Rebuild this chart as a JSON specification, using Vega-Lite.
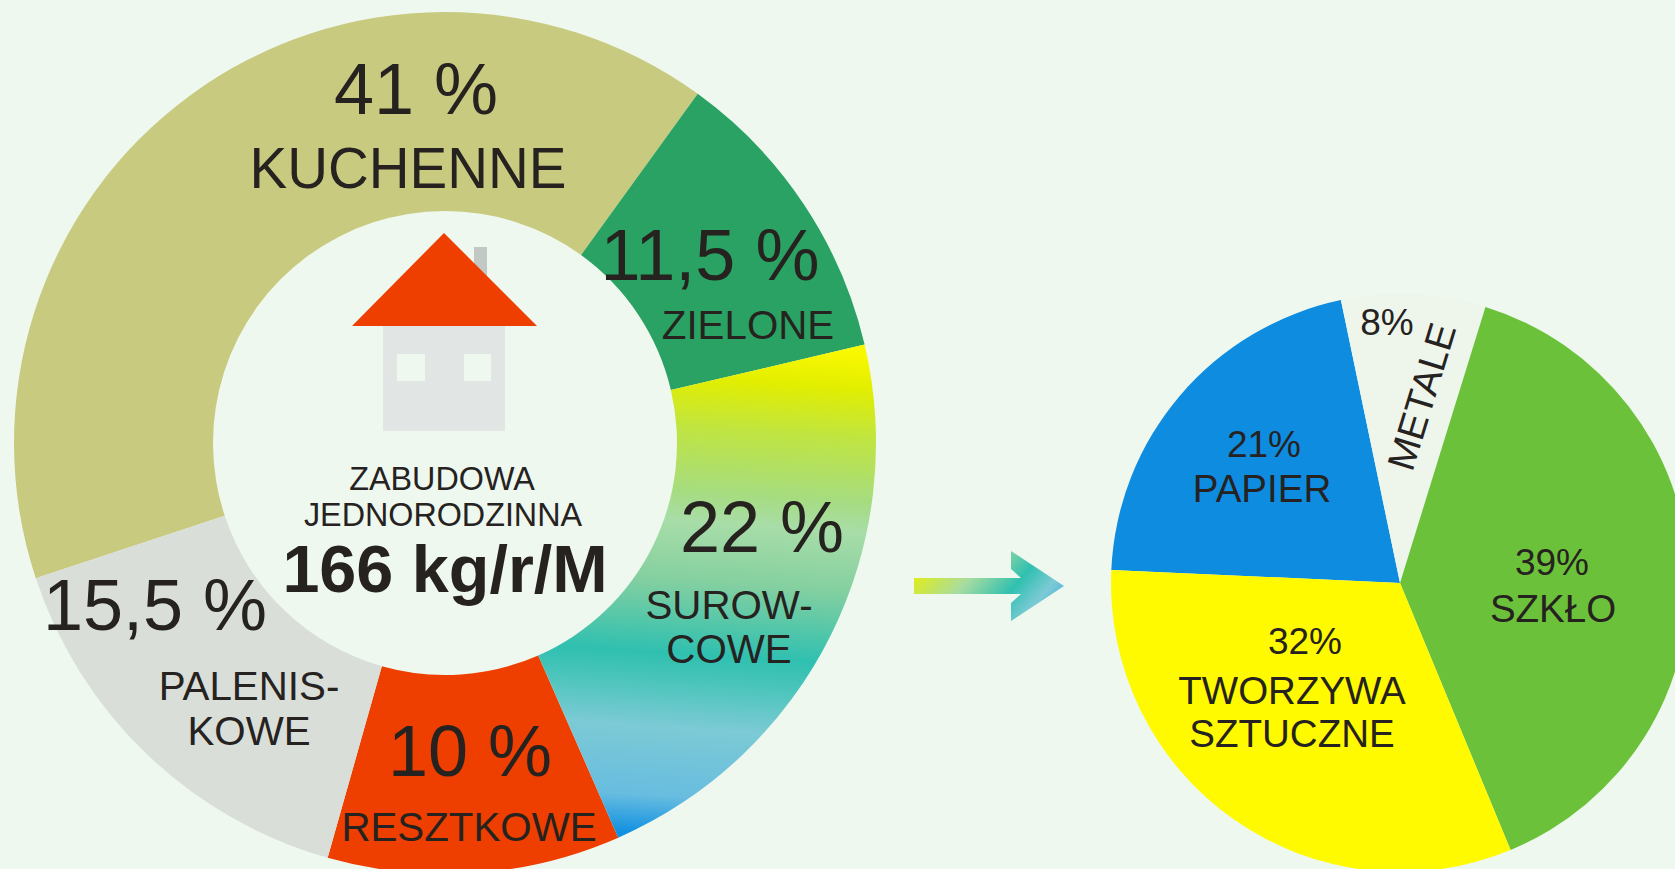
{
"$schema":"https://vega.github.io/schema/vega-lite/v6.json",
"width":1675,"height":869,"padding":0,"autosize":"none",
"background":"#EEF8EE",
"config":{"view":{"stroke":null},"text":{"font":"Liberation Sans","color":"#26221f","baseline":"alphabetic","align":"center"}},
"datasets":{
"donut":[
{"category":"KUCHENNE","share":41,"from":251.7,"to":395.9},
{"category":"ZIELONE","share":11.5,"from":35.9,"to":76.8},
{"category":"SUROWCOWE","share":22,"from":76.8,"to":156.3},
{"category":"RESZTKOWE","share":10,"from":156.3,"to":195.8},
{"category":"PALENISKOWE","share":15.5,"from":195.8,"to":251.7}],
"pie":[
{"category":"PAPIER","share":21,"from":272.6,"to":348.2},
{"category":"METALE","share":8,"from":348.2,"to":377.2},
{"category":"SZKŁO","share":39,"from":17.2,"to":157.5},
{"category":"TWORZYWA SZTUCZNE","share":32,"from":157.5,"to":272.6}],
"house":[
{"category":"chimney","a":474,"b":487,"c":247,"d":285},
{"category":"wall","a":383,"b":505,"c":326,"d":431},
{"category":"window","a":397,"b":425,"c":354,"d":381},
{"category":"window","a":464,"b":491,"c":354,"d":381}],
"roof":[{"a":352,"c":326,"d":326},{"a":444,"c":233,"d":326},{"a":537,"c":326,"d":326}],
"labels":[
{"tier":"big","t":"41 %","a":416,"c":114},
{"tier":"head","t":"KUCHENNE","a":408,"c":188},
{"tier":"big","t":"11,5 %","a":710,"c":280},
{"tier":"mid","t":"ZIELONE","a":748,"c":339},
{"tier":"big","t":"22 %","a":762,"c":552},
{"tier":"mid","t":"SUROW-","a":729,"c":619},
{"tier":"mid","t":"COWE","a":729,"c":663},
{"tier":"big","t":"10 %","a":470,"c":776},
{"tier":"mid","t":"RESZTKOWE","a":469,"c":841},
{"tier":"big","t":"15,5 %","a":155,"c":630},
{"tier":"mid","t":"PALENIS-","a":249,"c":700},
{"tier":"mid","t":"KOWE","a":249,"c":745},
{"tier":"centre","t":"ZABUDOWA","a":442,"c":490},
{"tier":"centre","t":"JEDNORODZINNA","a":443,"c":526},
{"tier":"bold","t":"166 kg/r/M","a":445,"c":592},
{"tier":"pie","t":"21%","a":1264,"c":457},
{"tier":"piename","t":"PAPIER","a":1262,"c":502},
{"tier":"pie","t":"39%","a":1552,"c":575},
{"tier":"piename","t":"SZKŁO","a":1553,"c":622},
{"tier":"pie","t":"32%","a":1305,"c":654},
{"tier":"piename","t":"TWORZYWA","a":1292,"c":704},
{"tier":"piename","t":"SZTUCZNE","a":1292,"c":747},
{"tier":"pie","t":"8%","a":1387,"c":335}]
},
"layer":[
{"data":{"name":"donut"},"transform":[{"filter":"datum.category!=='SUROWCOWE'"}],
 "mark":{"type":"arc","radius":431,"radius2":232},
 "encoding":{
 "x":{"datum":445,"type":"quantitative","scale":{"domain":[0,1675],"range":[0,1675],"nice":false,"zero":false},"axis":null},
 "y":{"datum":443,"type":"quantitative","scale":{"domain":[0,869],"range":[0,869],"nice":false,"zero":false},"axis":null},
 "theta":{"field":"from","type":"quantitative","scale":{"domain":[0,360],"range":[0,6.283185]}},
 "theta2":{"field":"to"},
 "color":{"field":"category","type":"nominal","legend":null,"scale":{"domain":["KUCHENNE","ZIELONE","RESZTKOWE","PALENISKOWE","PAPIER","METALE","SZKŁO","TWORZYWA SZTUCZNE","chimney","wall","window"],"range":["#C8CA80","#2AA263","#EE3E00","#D9DFD8","#0E8CE0","#EEF6EC","#6CC13A","#FFFA00","#C2C9C4","#E1E6E4","#EEF8EE"]}}}},
{"data":{"name":"donut"},"transform":[{"filter":"datum.category==='SUROWCOWE'"}],
 "mark":{"type":"arc","radius":431,"radius2":232,"fill":{"gradient":"linear","x1":0.522,"y1":0,"x2":0.478,"y2":1,"stops":[
 {"offset":0,"color":"#F8F800"},{"offset":0.07,"color":"#E2EE00"},{"offset":0.17,"color":"#C0E540"},{"offset":0.3,"color":"#A6DC80"},{"offset":0.36,"color":"#A8DDA8"},{"offset":0.48,"color":"#85D0A0"},{"offset":0.63,"color":"#2FC0B0"},{"offset":0.69,"color":"#4CC5BC"},{"offset":0.78,"color":"#7CCAD5"},{"offset":0.92,"color":"#68BDE0"},{"offset":1,"color":"#1090E0"}]}},
 "encoding":{
 "x":{"datum":445,"type":"quantitative"},
 "y":{"datum":443,"type":"quantitative"},
 "theta":{"field":"from","type":"quantitative"},
 "theta2":{"field":"to"}}},
{"data":{"name":"pie"},
 "mark":{"type":"arc","radius":289},
 "encoding":{
 "x":{"datum":1400,"type":"quantitative"},
 "y":{"datum":583,"type":"quantitative"},
 "theta":{"field":"from","type":"quantitative"},
 "theta2":{"field":"to"},
 "color":{"field":"category","type":"nominal"}}},
{"data":{"name":"house"},"mark":{"type":"rect"},
 "encoding":{
 "x":{"field":"a","type":"quantitative"},"x2":{"field":"b"},
 "y":{"field":"c","type":"quantitative"},"y2":{"field":"d"},
 "color":{"field":"category","type":"nominal"}}},
{"data":{"name":"roof"},"mark":{"type":"area","fill":"#EE3E00","orient":"vertical"},
 "encoding":{
 "x":{"field":"a","type":"quantitative"},
 "y":{"field":"c","type":"quantitative","stack":null},"y2":{"field":"d"}}},
{"data":{"values":[{"item":"arrow"}]},
 "mark":{"type":"point","filled":true,"opacity":1,"size":4,"shape":"M-75,-8L32,-8L22,-17L22,-35L75,0L22,35L22,17L32,8L-75,8Z","fill":{"gradient":"linear","x1":0,"y1":0.3,"x2":1,"y2":0.7,"stops":[{"offset":0,"color":"#E4EE10"},{"offset":0.35,"color":"#A8DCA0"},{"offset":0.65,"color":"#30C0B0"},{"offset":0.85,"color":"#7CCAD5"},{"offset":1,"color":"#50B0E0"}]}},
 "encoding":{"x":{"datum":989,"type":"quantitative"},"y":{"datum":586,"type":"quantitative"}}},
{"data":{"name":"labels"},"transform":[{"filter":"datum.tier==='big'"}],"mark":{"type":"text","fontSize":72},
 "encoding":{"x":{"field":"a","type":"quantitative"},"y":{"field":"c","type":"quantitative"},"text":{"field":"t"}}},
{"data":{"name":"labels"},"transform":[{"filter":"datum.tier==='head'"}],"mark":{"type":"text","fontSize":56.5},
 "encoding":{"x":{"field":"a","type":"quantitative"},"y":{"field":"c","type":"quantitative"},"text":{"field":"t"}}},
{"data":{"name":"labels"},"transform":[{"filter":"datum.tier==='mid'"}],"mark":{"type":"text","fontSize":40.3},
 "encoding":{"x":{"field":"a","type":"quantitative"},"y":{"field":"c","type":"quantitative"},"text":{"field":"t"}}},
{"data":{"name":"labels"},"transform":[{"filter":"datum.tier==='centre'"}],"mark":{"type":"text","fontSize":32.3},
 "encoding":{"x":{"field":"a","type":"quantitative"},"y":{"field":"c","type":"quantitative"},"text":{"field":"t"}}},
{"data":{"name":"labels"},"transform":[{"filter":"datum.tier==='bold'"}],"mark":{"type":"text","fontSize":66.5,"fontWeight":"bold"},
 "encoding":{"x":{"field":"a","type":"quantitative"},"y":{"field":"c","type":"quantitative"},"text":{"field":"t"}}},
{"data":{"name":"labels"},"transform":[{"filter":"datum.tier==='pie'"}],"mark":{"type":"text","fontSize":37},
 "encoding":{"x":{"field":"a","type":"quantitative"},"y":{"field":"c","type":"quantitative"},"text":{"field":"t"}}},
{"data":{"name":"labels"},"transform":[{"filter":"datum.tier==='piename'"}],"mark":{"type":"text","fontSize":38.5},
 "encoding":{"x":{"field":"a","type":"quantitative"},"y":{"field":"c","type":"quantitative"},"text":{"field":"t"}}},
{"data":{"values":[{"t":"METALE","a":1423,"c":397}]},"mark":{"type":"text","fontSize":38.5,"angle":287,"baseline":"middle"},
 "encoding":{"x":{"field":"a","type":"quantitative"},"y":{"field":"c","type":"quantitative"},"text":{"field":"t"}}}
]
}
